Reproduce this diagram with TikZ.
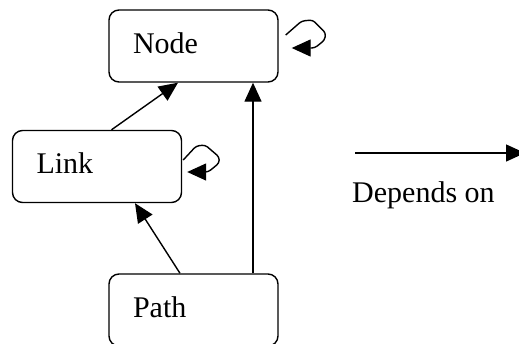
\documentclass[tikz,border=0pt]{standalone}
\usepackage{fontspec}
\setmainfont{Liberation Serif}
\usetikzlibrary{arrows.meta}

\begin{document}
\begin{tikzpicture}[x=1pt,y=-1pt,
        box/.style={draw,line width=1.4pt,rounded corners=10pt,minimum width=169pt,minimum height=72pt,
            inner xsep=24pt,text width=121pt,align=left,text height=20pt,text depth=6pt,
            font=\fontsize{30}{36}\selectfont},
        dep/.style={line width=1.4pt,-{Triangle[length=19pt,width=17pt]}}]
    \useasboundingbox (0,0) rectangle (519,343);
    % 方框
    \foreach \name/\x/\y in {Node/193.5/46, Link/97/166.5, Path/193.5/310}
        \node[box] (\name) at (\x,\y) {\name};
    % 依赖箭头
    \draw[dep] ([xshift=14.5pt]Link.north) -- ([xshift=-15.5pt]Node.south);
    \draw[dep] ([xshift=-13.5pt]Path.north) -- ([xshift=38pt]Link.south);
    \draw[dep] ([xshift=59.5pt]Path.north) -- ([xshift=59.5pt]Node.south);
    % 自环
    \draw[dep,rounded corners=3pt] ([shift={(7,-11)}]Node.east) -- ++(16,-14) -- ++(11,-1)
        -- ++(13,13) -- ++(-1,7) -- ++(-10,8) -- ++(-23,0);
    \draw[dep,rounded corners=3pt] ([shift={(1,-6.5)}]Link.east) -- ++(13,-14) -- ++(9,-1)
        -- ++(14,12) -- ++(0,6) -- ++(-11,9) -- ++(-21,0);
    % 图例
    \coordinate (depA) at (355,153);
    \coordinate (depB) at (525,153);
    \draw[dep] (depA) -- (depB);
    \node[anchor=base west,inner sep=0pt,font=\fontsize{30}{36}\selectfont] (legend) at (352,202) {Depends on};
\end{tikzpicture}
\end{document}
